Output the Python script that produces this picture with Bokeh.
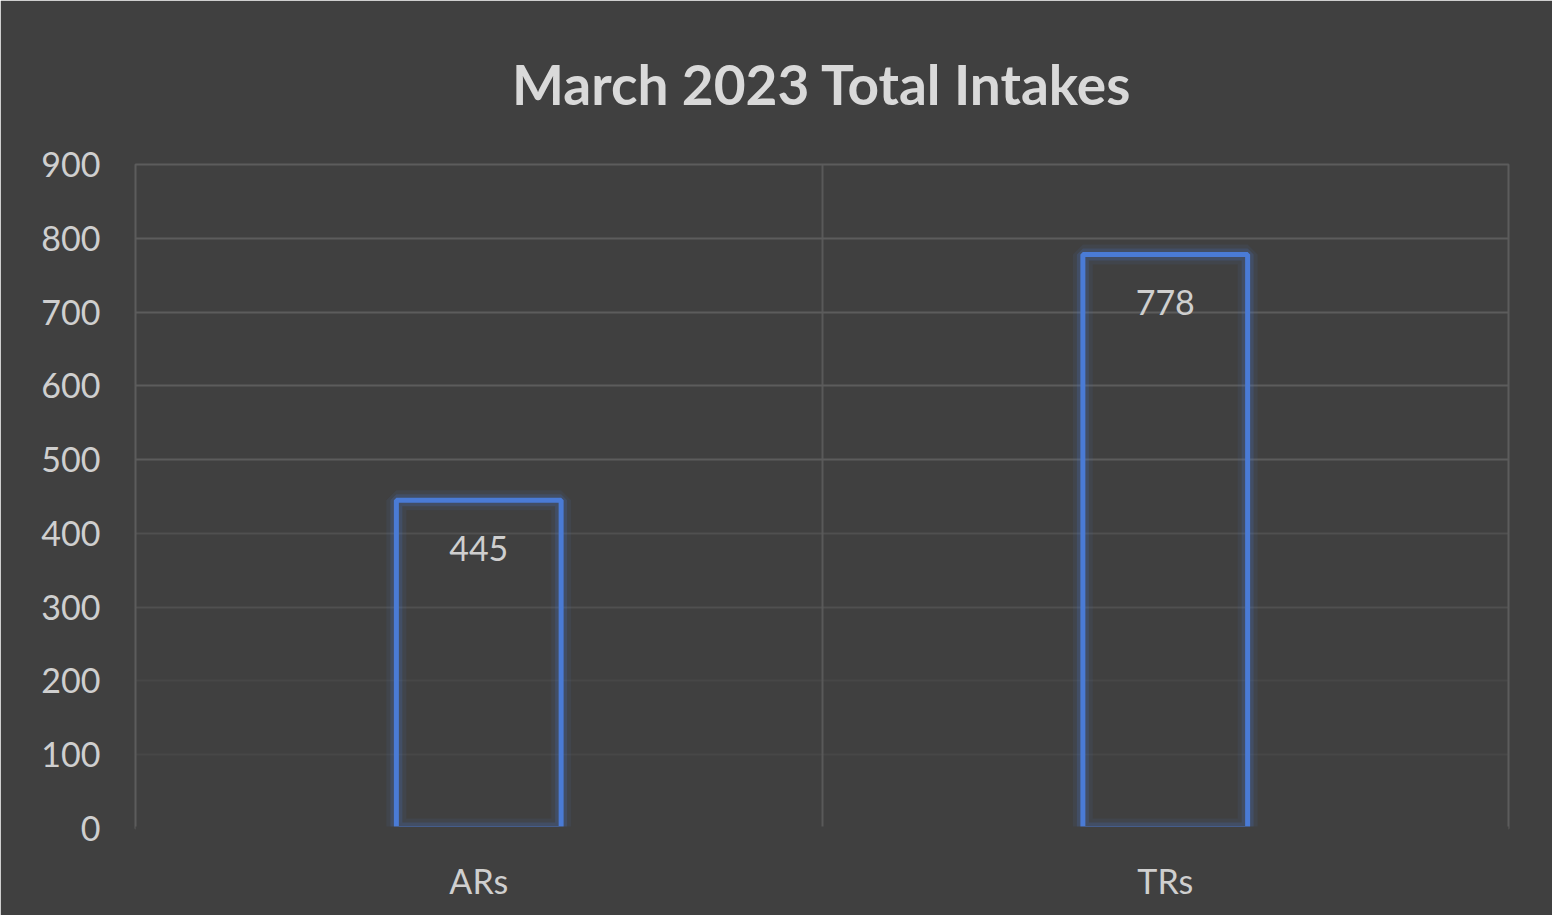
from bokeh.plotting import figure
from bokeh.models import Range1d, FixedTicker, Grid
from bokeh.core.properties import value
from bokeh.embed import file_html
from bokeh.resources import INLINE

categories = ["ARs", "TRs"]
intakes = [445, 778]
y_ticks = [0, 100, 200, 300, 400, 500, 600, 700, 800, 900]
title_text = "March 2023 Total Intakes"

xs = [i + 0.5 for i in range(len(categories))]

p = figure(width=1552, height=915, output_backend="svg", toolbar_location=None,
           x_range=Range1d(0, len(categories)), y_range=Range1d(0, 900),
           min_border_left=135, min_border_right=44, min_border_top=164, min_border_bottom=87)

bg = "#404040"
grid_col = "#5c5c5c"
p.background_fill_color = bg
p.border_fill_color = bg
p.outline_line_color = grid_col
p.outline_line_width = 2

p.title.text = title_text
p.title.align = "center"
p.title.text_font = "Lato"
p.title.text_font_size = "55px"
p.title.text_font_style = "bold"
p.title.text_color = "#d9d9d9"
p.title.standoff = 96

for ax in (p.xaxis[0], p.yaxis[0]):
    ax.major_tick_line_color = None
    ax.minor_tick_line_color = None
    ax.major_label_text_font = "Lato"
    ax.major_label_text_font_size = "34px"
    ax.major_label_text_color = "#cfcfcf"
p.yaxis.axis_line_color = None
# the bottom edge of the frame has no line in the original
p.xaxis.axis_line_color = bg
p.xaxis.axis_line_width = 4

p.yaxis.ticker = FixedTicker(ticks=y_ticks)
p.yaxis.major_label_standoff = 29
p.xaxis.ticker = FixedTicker(ticks=xs)
p.xaxis.major_label_overrides = {x: c for x, c in zip(xs, categories)}
p.xaxis.major_label_standoff = 25

# grids (upper lines stronger, lower lines fading as in the original)
p.xgrid.ticker = FixedTicker(ticks=list(range(len(categories) + 1)))
p.xgrid.grid_line_color = grid_col
p.xgrid.grid_line_width = 2
p.xgrid.grid_line_alpha = 0.9
p.ygrid.ticker = FixedTicker(ticks=[500, 600, 700, 800, 900])
p.ygrid.grid_line_color = grid_col
p.ygrid.grid_line_width = 2
p.add_layout(Grid(dimension=1, ticker=FixedTicker(ticks=[300, 400]),
                  grid_line_color=grid_col, grid_line_width=2, grid_line_alpha=0.6))
p.add_layout(Grid(dimension=1, ticker=FixedTicker(ticks=[100, 200]),
                  grid_line_color=grid_col, grid_line_width=2, grid_line_alpha=0.25))

# bars with glow
bw = 0.24
p.vbar(x=xs, top=intakes, width=bw, fill_alpha=0, line_color="#4a7bd6", line_width=20, line_alpha=0.08)
p.vbar(x=xs, top=intakes, width=bw, fill_alpha=0, line_color="#4a7bd6", line_width=12, line_alpha=0.18)
p.vbar(x=xs, top=intakes, width=bw, fill_alpha=0, line_color="#4a7bd6", line_width=5)

p.text(x=xs, y=intakes, text=[str(v) for v in intakes], text_align="center", text_baseline="middle",
       y_offset=48, text_font=value("Lato"), text_font_size="34px", text_color="#cfcfcf")

open("out.html", "w").write(file_html(p, INLINE))
